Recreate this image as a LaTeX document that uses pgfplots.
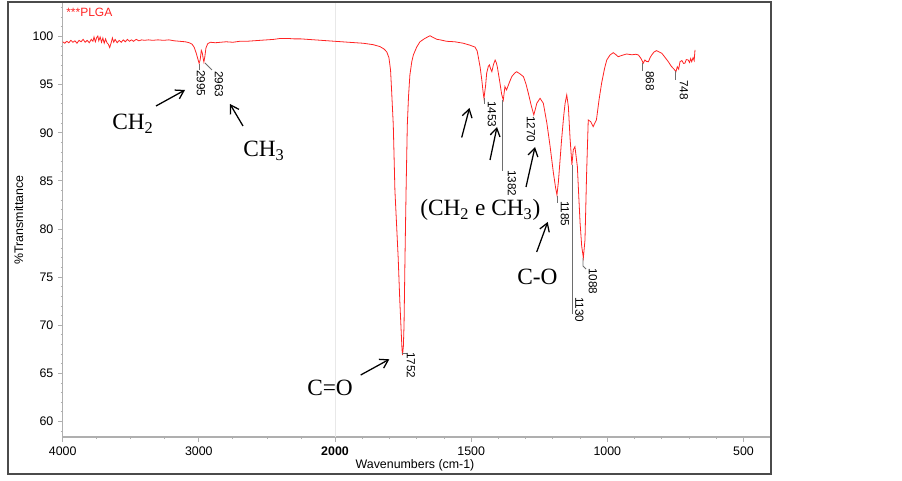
\documentclass[border=0pt]{standalone}
\usepackage{fontspec}
\setmainfont{Liberation Sans}
\newfontfamily\tms{Liberation Serif}
\usepackage{pgfplots}
\pgfplotsset{compat=1.18}
\usetikzlibrary{arrows.meta}
\definecolor{spec}{RGB}{255,35,35}
\definecolor{framec}{RGB}{75,75,75}
\definecolor{axgray}{RGB}{175,175,175}
\definecolor{lead}{RGB}{110,110,110}
\newcommand\pk{\fontsize{8.8}{10}\selectfont}
\newcommand\chem{\tms\fontsize{17.5}{19}\selectfont}

\begin{document}
\begin{tikzpicture}
\useasboundingbox (0,0) rectangle (676.5pt,360.75pt);
\begin{axis}[
    at={(47.025pt,33pt)}, anchor=south west,
    scale only axis, width=531pt, height=325.5pt,
    % wavenumber axis changes scale at 2000
    x coord trafo/.code={\pgfmathparse{#1>1999.99 ? (4000-#1)/1000 : 2+(2000-#1)/500}},
    x coord inv trafo/.code={\pgfmathparse{#1<2.00001 ? 4000-1000*#1 : 2000-500*(#1-2)}},
    xmin=4000, xmax=400, ymin=58.39, ymax=103.48,
    axis x line*=bottom, axis y line*=left,
    axis line style={axgray, line width=1.1pt},
    tick style={axgray, line width=0.6pt},
    tick align=outside,
    major tick length=3.5pt, minor tick length=1.6pt,
    xtick={4000,3000,2000,1500,1000,500},
    xticklabels={4000,3000,\textbf{2000},1500,1000,500},
    minor xtick={3750,3500,3250,2750,2500,2250,1900,1800,1700,1600,1400,1300,1200,1100,900,800,700,600,400},
    ytick={60,65,...,100},
    minor ytick={59,60,...,103},
    ticklabel style={font=\fontsize{9.3}{10}\selectfont},
    /pgf/number format/assume math mode=true,
]
\draw[gray!18, line width=0.6pt] (rel axis cs:0.384615,0) -- (rel axis cs:0.384615,1);
\addplot[spec, line width=0.6pt] coordinates {
(4000,99.45) (3985,99.3) (3970,99.5) (3955,99.35) (3940,99.6) (3925,99.4) (3910,99.55) (3895,99.3)
(3880,99.6) (3865,99.45) (3850,99.7) (3835,99.4) (3820,99.6) (3805,99.35) (3790,99.7) (3778,99.5)
(3770,99.95) (3760,99.45) (3750,99.9) (3742,100.05) (3735,99.55) (3725,99.95) (3715,99.4) (3705,99.85)
(3695,99.3) (3685,99.75) (3675,99.35) (3665,99.2) (3655,98.85) (3645,99.3) (3635,99.85) (3625,99.4)
(3615,99.7) (3600,99.35) (3585,99.6) (3570,99.4) (3555,99.65) (3540,99.45) (3525,99.7) (3510,99.5)
(3495,99.65) (3480,99.5) (3460,99.7) (3440,99.55) (3420,99.65) (3400,99.6) (3370,99.65) (3340,99.6)
(3300,99.65) (3260,99.6) (3220,99.65) (3180,99.55) (3140,99.5) (3100,99.45) (3070,99.35) (3050,99.2)
(3035,98.9) (3020,98.3) (3008,97.7) (2998,97.2) (2990,97.6) (2982,98.55) (2975,98.3) (2968,97.7)
(2963,97.35) (2956,97.9) (2948,98.8) (2935,99.25) (2915,99.4) (2880,99.35) (2840,99.4) (2800,99.45)
(2750,99.4) (2700,99.5) (2650,99.5) (2600,99.55) (2550,99.6) (2500,99.65) (2450,99.7) (2400,99.8)
(2350,99.8) (2300,99.75) (2250,99.75) (2200,99.7) (2150,99.65) (2100,99.6) (2050,99.55) (2000,99.5)
(1950,99.4) (1897,99.3) (1860,99.15) (1835,98.95) (1820,98.7) (1810,98.4) (1802,97.8) (1796,96.5)
(1792,94.3) (1786,90.8) (1780,84.0) (1774,80.5) (1768,77.0) (1762,72.5) (1758,70.0) (1754,67.5)
(1752,66.9) (1749,67.8) (1746.5,70.0) (1743,77.0) (1739,84.0) (1734.5,90.8) (1730,93.8) (1725,96.0)
(1718,97.4) (1712,98.1) (1700,98.9) (1688,99.45) (1670,99.8) (1651,100.08) (1640,99.9) (1625,99.7)
(1614,99.65) (1590,99.5) (1560,99.45) (1529,99.3) (1505,99.1) (1486,98.9) (1478,98.5) (1474,97.9)
(1467,96.8) (1461,95.5) (1456,94.2) (1453,93.58) (1447,94.9) (1443,96.2) (1437,96.9) (1433,97.05)
(1428,96.6) (1424,96.35) (1418,97.1) (1412,97.55) (1408,97.3) (1404,96.85) (1395,95.3) (1388,94.0)
(1382,93.4) (1376,94.8) (1370,94.45) (1360,95.2) (1351,95.83) (1340,96.2) (1333,96.34) (1320,96.1)
(1308,95.83) (1298,95.0) (1290,94.1) (1280,92.9) (1270,91.85) (1263,92.6) (1259,93.06) (1247,93.58)
(1235,93.06) (1222,91.0) (1210,88.56) (1198,85.83) (1190,84.3) (1185,83.54) (1180,84.79) (1174,87.0)
(1168,89.25) (1160,91.8) (1155,93.06) (1149,93.93) (1143,92.71) (1137,89.5) (1130,86.66) (1125,88.21)
(1119,88.56) (1110,86.48) (1105,83.5) (1100,80.63) (1094,78.2) (1088,77.0) (1082,78.87) (1076,85.83)
(1070,91.33) (1061,91.15) (1052,90.63) (1046,91.0) (1040,91.33) (1030,93.5) (1021,95.14) (1010,96.7)
(1002,97.56) (990,98.08) (978,98.32) (968,98.1) (960,97.9) (945,98.05) (929,98.18) (910,98.1)
(895,98.15) (886,98.08) (876,97.7) (868,97.22) (862,97.56) (856,97.4) (849,97.38) (843,97.8)
(837,98.08) (828,98.4) (819,98.53) (810,98.4) (800,98.26) (790,97.9) (776,97.38) (765,96.9)
(755,96.6) (748,96.34) (743,96.86) (738,96.6) (733,97.38) (726,97.5) (720,97.2) (715,97.22)
(710,97.6) (703,97.56) (698,97.3) (694,97.7) (690,97.38) (685,97.8) (681,97.5) (678,98.6)
};
\end{axis}

% annotations in pixel units of the reference (origin top left)
\begin{scope}[shift={(0pt,360.75pt)}, x=0.75pt, y=-0.75pt]
\draw[framec, line width=1.5pt] (8,2) rectangle (770.7,474);
\node[anchor=base west, inner sep=0, text=spec, font=\fontsize{9}{10}\selectfont] at (66,17) {***PLGA};
\node[anchor=base, inner sep=0, font=\fontsize{9.3}{10}\selectfont] at (415,469) {Wavenumbers (cm-1)};
\node[anchor=base, inner sep=0, rotate=90, font=\fontsize{9.3}{10}\selectfont] at (23,220) {\%Transmittance};

% peak leaders and labels
\begin{scope}[lead, line width=0.6pt]
\draw (199.3,64) -- (199.3,70);
\draw (205,63) -- (212,70);
\draw (402,353) -- (407,353);
\draw (484,98) -- (484,104);
\draw (502.5,100) -- (502.5,171);
\draw (557,196) -- (557,203);
\draw (572,165) -- (572,314);
\draw (583,258) -- (583,266) -- (586,269);
\draw (642,63) -- (642,71.5);
\draw (675,71.5) -- (675,80);
\end{scope}
\begin{scope}[every node/.style={rotate=-90, anchor=west, inner sep=0, font=\pk}]
\node at (201,70) {2995};
\node at (219,71) {2963};
\node at (411,352) {1752};
\node at (492,101) {1453};
\node at (512,170) {1382};
\node at (531,116) {1270};
\node at (565,201) {1185};
\node at (579.5,297) {1130};
\node at (593,268) {1088};
\node at (650,71) {868};
\node at (684,80) {748};
\end{scope}

% group assignments
\begin{scope}[-{Straight Barb[length=6pt,width=7.5pt]}, line width=0.95pt]
\draw (156,106) -- (185,90);
\draw (243,126) -- (230,104);
\draw (360.7,375) -- (389.3,359.3);
\draw (461.7,137.5) -- (469.5,108);
\draw (490,160) -- (497,127);
\draw (526,187) -- (535,147);
\draw (536.7,252) -- (547.7,222);
\end{scope}
\node[anchor=base west, inner sep=0, font=\chem] at (112,130) {CH\textsubscript{2}};
\node[anchor=base west, inner sep=0, font=\chem] at (243,157) {CH\textsubscript{3}};
\node[anchor=base west, inner sep=0, font=\chem] at (307,396) {C=O};
\node[anchor=base west, inner sep=0, font=\chem] at (420,216) {(CH\textsubscript{2} e CH\textsubscript{3})};
\node[anchor=base west, inner sep=0, font=\chem] at (517,285) {C-O};
\end{scope}
\end{tikzpicture}
\end{document}
